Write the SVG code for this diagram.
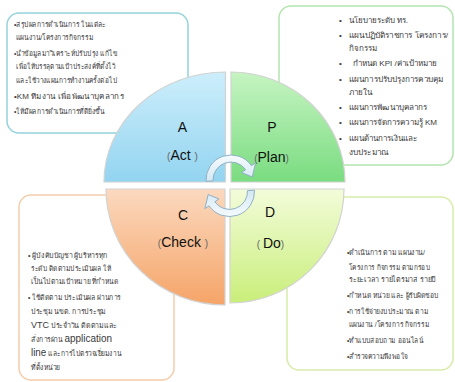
<svg xmlns="http://www.w3.org/2000/svg" width="455" height="382" viewBox="0 0 455 382">
<defs>
<linearGradient id="gA" x1="0" y1="0" x2="0" y2="1"><stop offset="0" stop-color="#cdeefb"/><stop offset="1" stop-color="#93d4f0"/></linearGradient>
<linearGradient id="gP" x1="0" y1="0" x2="0" y2="1"><stop offset="0" stop-color="#c6f4c2"/><stop offset="1" stop-color="#7adc80"/></linearGradient>
<linearGradient id="gC" x1="0" y1="0" x2="0" y2="1"><stop offset="0" stop-color="#fbd9bf"/><stop offset="1" stop-color="#f5a468"/></linearGradient>
<linearGradient id="gD" x1="0" y1="0" x2="0" y2="1"><stop offset="0" stop-color="#f3fcda"/><stop offset="1" stop-color="#c9ee7a"/></linearGradient>
<linearGradient id="gArr" x1="0" y1="0" x2="0" y2="1"><stop offset="0" stop-color="#f6fbfe"/><stop offset="1" stop-color="#d3e8f3"/></linearGradient>
<style>
.box{fill:#ffffff;stroke-width:1.5}
.q{stroke:#d2d2d2;stroke-width:1.2}
.t{font-family:"Liberation Sans","Noto Sans",sans-serif;font-size:7.5px;fill:#3a3a3a}
.tp{font-family:"Liberation Sans","Noto Sans",sans-serif;font-size:8px;fill:#3a3a3a}
.big{font-family:"Liberation Sans","Noto Sans",sans-serif;font-size:14px;fill:#111111;text-anchor:middle}
.par{font-size:10px;fill:#666666}
.arr{fill:url(#gArr);stroke:#8fb0c4;stroke-width:1}
</style>
</defs>
<rect width="455" height="382" fill="#ffffff"/>

<g id="box-act">
<rect class="box" x="7" y="13" width="181" height="120" rx="12" stroke="#94d3dc"/>
<text class="t" x="14" y="27" textLength="92" lengthAdjust="spacingAndGlyphs">•สรุปผลการดำเนินการ ในแต่ละ</text>
<text class="t" x="16" y="40" textLength="77" lengthAdjust="spacingAndGlyphs">แผนงาน/โครงการกิจกรรม</text>
<text class="t" x="14" y="56" textLength="103" lengthAdjust="spacingAndGlyphs">•นำข้อมูลมาวิเคราะห์ปรับปรุง แก้ไข</text>
<text class="t" x="16" y="69" textLength="99" lengthAdjust="spacingAndGlyphs">เพื่อให้บรรลุตามเป้าประสงค์ที่ตั้งไว้</text>
<text class="t" x="16" y="83" textLength="101" lengthAdjust="spacingAndGlyphs">และใช้วางแผนการทำงานครั้งต่อไป</text>
<text class="t" x="14" y="99" textLength="110" lengthAdjust="spacingAndGlyphs">•KM ทีมงาน เพื่อพัฒนาบุคลากร</text>
<text class="t" x="14" y="114" textLength="90" lengthAdjust="spacingAndGlyphs">•ให้มีผลการดำเนินการที่ดียิ่งขึ้น</text>
</g>

<g id="box-plan">
<rect class="box" x="279" y="6" width="174" height="159" rx="12" stroke="#b3e5ae"/>
<text class="tp" x="339" y="23">•</text><text class="tp" x="349" y="23" textLength="59" lengthAdjust="spacingAndGlyphs">นโยบายระดับ ทร.</text>
<text class="tp" x="339" y="38">•</text><text class="tp" x="349" y="38" textLength="99" lengthAdjust="spacingAndGlyphs">แผนปฏิบัติราชการ โครงการ/</text>
<text class="tp" x="349" y="51" textLength="28" lengthAdjust="spacingAndGlyphs">กิจกรรม</text>
<text class="tp" x="339" y="66">•</text><text class="tp" x="353" y="66" textLength="84" lengthAdjust="spacingAndGlyphs">กำหนด KPI /ค่าเป้าหมาย</text>
<text class="tp" x="339" y="82">•</text><text class="tp" x="349" y="82" textLength="94" lengthAdjust="spacingAndGlyphs">แผนการปรับปรุงการควบคุม</text>
<text class="tp" x="349" y="95" textLength="23" lengthAdjust="spacingAndGlyphs">ภายใน</text>
<text class="tp" x="339" y="110">•</text><text class="tp" x="349" y="110" textLength="78" lengthAdjust="spacingAndGlyphs">แผนการพัฒนาบุคลากร</text>
<text class="tp" x="339" y="125">•</text><text class="tp" x="349" y="125" textLength="88" lengthAdjust="spacingAndGlyphs">แผนการจัดการความรู้ KM</text>
<text class="tp" x="339" y="141">•</text><text class="tp" x="349" y="141" textLength="68" lengthAdjust="spacingAndGlyphs">แผนด้านการเงินและ</text>
<text class="tp" x="349" y="155" textLength="39" lengthAdjust="spacingAndGlyphs">งบประมาณ</text>
</g>

<g id="box-check">
<rect class="box" x="19" y="195" width="155" height="185" rx="12" stroke="#f4cdab"/>
<text class="t" x="28" y="258" textLength="80" lengthAdjust="spacingAndGlyphs">• ผู้บังคับบัญชา ผู้บริหารทุก</text>
<text class="t" x="31" y="271" textLength="80" lengthAdjust="spacingAndGlyphs">ระดับ ติดตามประเมินผล ให้</text>
<text class="t" x="31" y="284" textLength="87" lengthAdjust="spacingAndGlyphs">เป็นไปตามเป้าหมาย ที่กำหนด</text>
<text class="t" x="28" y="300" textLength="93" lengthAdjust="spacingAndGlyphs">•  ใช้ติดตาม ประเมินผล ผ่านการ</text>
<text class="t" x="31" y="314" textLength="75" lengthAdjust="spacingAndGlyphs">ประชุม นขต. การประชุม</text>
<text class="t" x="31" y="328" textLength="86" lengthAdjust="spacingAndGlyphs"><tspan font-size="9.5">VTC</tspan> ประจำวัน ติดตามและ</text>
<text class="t" x="31" y="342" textLength="81" lengthAdjust="spacingAndGlyphs">สั่งการผ่าน <tspan font-size="11">application</tspan></text>
<text class="t" x="31" y="356" textLength="90" lengthAdjust="spacingAndGlyphs"><tspan font-size="11">line</tspan>  และการไปตรวจเยี่ยมงาน</text>
<text class="t" x="31" y="370" textLength="29" lengthAdjust="spacingAndGlyphs">ที่ตั้งหน่วย</text>
</g>

<g id="box-do">
<rect class="box" x="287" y="197" width="166" height="173" rx="12" stroke="#d8ebaa"/>
<text class="t" x="347" y="255" textLength="78" lengthAdjust="spacingAndGlyphs">•ดำเนินการ ตาม แผนงาน/</text>
<text class="t" x="349" y="270" textLength="81" lengthAdjust="spacingAndGlyphs">โครงการ กิจกรรม ตามกรอบ</text>
<text class="t" x="349" y="282" textLength="87" lengthAdjust="spacingAndGlyphs">ระยะเวลา รายไตรมาส รายปี</text>
<text class="t" x="347" y="298" textLength="92" lengthAdjust="spacingAndGlyphs">•กำหนด หน่วย และ ผู้รับผิดชอบ</text>
<text class="t" x="347" y="314" textLength="81" lengthAdjust="spacingAndGlyphs">•การใช้จ่ายงบประมาณ ตาม</text>
<text class="t" x="349" y="327" textLength="80" lengthAdjust="spacingAndGlyphs">แผนงาน /โครงการ กิจกรรม</text>
<text class="t" x="347" y="343" textLength="76" lengthAdjust="spacingAndGlyphs">•ทำแบบสอบถาม ออนไลน์</text>
<text class="t" x="347" y="359" textLength="61" lengthAdjust="spacingAndGlyphs">•สำรวจความพึงพอใจ</text>
</g>

<g id="act">
<path class="q" fill="url(#gA)" d="M225.5,182 L104,182 A121.5,110 0 0 1 225.5,72 Z"/>
<text class="big" x="182.5" y="132">A</text>
<text class="big" x="182.5" y="160"><tspan class="par">(</tspan>Act <tspan class="par">)</tspan></text>
</g>
<g id="plan">
<path class="q" fill="url(#gP)" d="M231,182 L231,72 A114,110 0 0 1 345,182 Z"/>
<text class="big" x="272" y="132">P</text>
<text class="big" x="271.5" y="162"><tspan class="par">(</tspan>Plan<tspan class="par">)</tspan></text>
</g>
<g id="check">
<path class="q" fill="url(#gC)" d="M225,189 L106,189 A119,116 0 0 0 225,305 Z"/>
<text class="big" x="183" y="220">C</text>
<text class="big" x="183" y="247"><tspan class="par">(</tspan>Check <tspan class="par">)</tspan></text>
</g>
<g id="do">
<path class="q" fill="url(#gD)" d="M230,189 L344,189 A114,114 0 0 1 230,303 Z"/>
<text class="big" x="270" y="217">D</text>
<text class="big" x="270.5" y="248"><tspan class="par">( </tspan>Do<tspan class="par">)</tspan></text>
</g>

<g id="connectors">
<path class="arr" d="M206,181.3 A25,25 0 0 1 251.5,165.7 L255.6,162.8 L252.3,177 L241.6,172.5 L245.7,169.7 A18,18 0 0 0 213,180.9 Z"/>
<path class="arr" transform="rotate(180 230.25 185.75)" d="M206,181.3 A25,25 0 0 1 251.5,165.7 L255.6,162.8 L252.3,177 L241.6,172.5 L245.7,169.7 A18,18 0 0 0 213,180.9 Z"/>
</g>
</svg>
